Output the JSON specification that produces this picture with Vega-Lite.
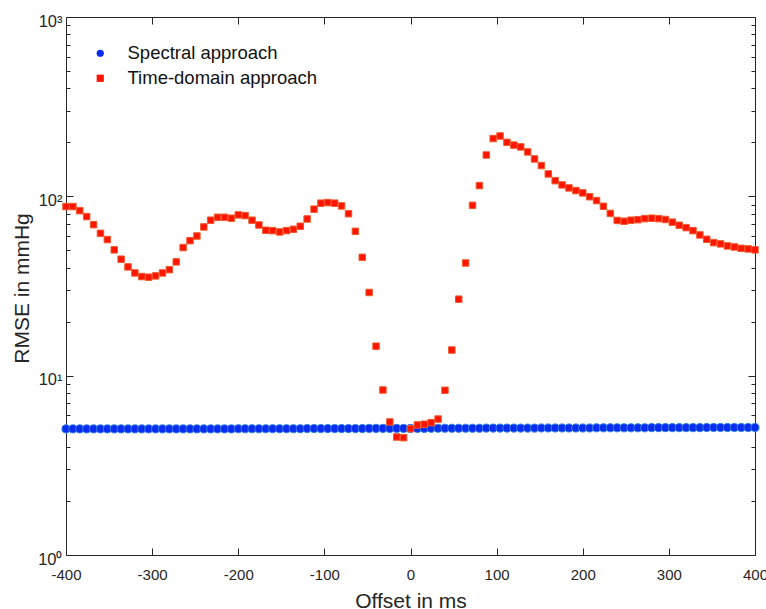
{
  "$schema": "https://vega.github.io/schema/vega-lite/v6.json",
  "width": 689,
  "height": 538,
  "autosize": "none",
  "padding": {"left": 66, "top": 17, "right": 11, "bottom": 54},
  "background": "white",
  "config": {
    "view": {"stroke": null},
    "font": "Liberation Sans",
    "axis": {
      "grid": false,
      "domainColor": "#262626",
      "tickColor": "#262626",
      "labelColor": "#262626",
      "titleColor": "#262626",
      "domainWidth": 1,
      "tickWidth": 1,
      "labelFont": "Liberation Sans",
      "titleFont": "Liberation Sans",
      "titleFontWeight": "normal",
      "labelFontSize": 15,
      "titleFontSize": 21,
      "labelFlush": false,
      "labelOverlap": false
    }
  },
  "datasets": {
    "rmse": [
      {"offset": -400, "rmse": 5.05, "method": "Spectral approach"},
      {"offset": -392, "rmse": 5.05, "method": "Spectral approach"},
      {"offset": -384, "rmse": 5.05, "method": "Spectral approach"},
      {"offset": -376, "rmse": 5.05, "method": "Spectral approach"},
      {"offset": -368, "rmse": 5.05, "method": "Spectral approach"},
      {"offset": -360, "rmse": 5.05, "method": "Spectral approach"},
      {"offset": -352, "rmse": 5.05, "method": "Spectral approach"},
      {"offset": -344, "rmse": 5.05, "method": "Spectral approach"},
      {"offset": -336, "rmse": 5.05, "method": "Spectral approach"},
      {"offset": -328, "rmse": 5.05, "method": "Spectral approach"},
      {"offset": -320, "rmse": 5.05, "method": "Spectral approach"},
      {"offset": -312, "rmse": 5.05, "method": "Spectral approach"},
      {"offset": -304, "rmse": 5.05, "method": "Spectral approach"},
      {"offset": -296, "rmse": 5.05, "method": "Spectral approach"},
      {"offset": -288, "rmse": 5.05, "method": "Spectral approach"},
      {"offset": -280, "rmse": 5.05, "method": "Spectral approach"},
      {"offset": -272, "rmse": 5.05, "method": "Spectral approach"},
      {"offset": -264, "rmse": 5.05, "method": "Spectral approach"},
      {"offset": -256, "rmse": 5.05, "method": "Spectral approach"},
      {"offset": -248, "rmse": 5.05, "method": "Spectral approach"},
      {"offset": -240, "rmse": 5.05, "method": "Spectral approach"},
      {"offset": -232, "rmse": 5.05, "method": "Spectral approach"},
      {"offset": -224, "rmse": 5.05, "method": "Spectral approach"},
      {"offset": -216, "rmse": 5.05, "method": "Spectral approach"},
      {"offset": -208, "rmse": 5.05, "method": "Spectral approach"},
      {"offset": -200, "rmse": 5.06, "method": "Spectral approach"},
      {"offset": -192, "rmse": 5.06, "method": "Spectral approach"},
      {"offset": -184, "rmse": 5.06, "method": "Spectral approach"},
      {"offset": -176, "rmse": 5.06, "method": "Spectral approach"},
      {"offset": -168, "rmse": 5.06, "method": "Spectral approach"},
      {"offset": -160, "rmse": 5.06, "method": "Spectral approach"},
      {"offset": -152, "rmse": 5.06, "method": "Spectral approach"},
      {"offset": -144, "rmse": 5.06, "method": "Spectral approach"},
      {"offset": -136, "rmse": 5.06, "method": "Spectral approach"},
      {"offset": -128, "rmse": 5.06, "method": "Spectral approach"},
      {"offset": -120, "rmse": 5.07, "method": "Spectral approach"},
      {"offset": -112, "rmse": 5.07, "method": "Spectral approach"},
      {"offset": -104, "rmse": 5.07, "method": "Spectral approach"},
      {"offset": -96, "rmse": 5.07, "method": "Spectral approach"},
      {"offset": -88, "rmse": 5.07, "method": "Spectral approach"},
      {"offset": -80, "rmse": 5.07, "method": "Spectral approach"},
      {"offset": -72, "rmse": 5.07, "method": "Spectral approach"},
      {"offset": -64, "rmse": 5.07, "method": "Spectral approach"},
      {"offset": -56, "rmse": 5.07, "method": "Spectral approach"},
      {"offset": -48, "rmse": 5.08, "method": "Spectral approach"},
      {"offset": -40, "rmse": 5.08, "method": "Spectral approach"},
      {"offset": -32, "rmse": 5.08, "method": "Spectral approach"},
      {"offset": -24, "rmse": 5.08, "method": "Spectral approach"},
      {"offset": -16, "rmse": 5.08, "method": "Spectral approach"},
      {"offset": -8, "rmse": 5.08, "method": "Spectral approach"},
      {"offset": 0, "rmse": 5.08, "method": "Spectral approach"},
      {"offset": 8, "rmse": 5.08, "method": "Spectral approach"},
      {"offset": 16, "rmse": 5.08, "method": "Spectral approach"},
      {"offset": 24, "rmse": 5.09, "method": "Spectral approach"},
      {"offset": 32, "rmse": 5.09, "method": "Spectral approach"},
      {"offset": 40, "rmse": 5.09, "method": "Spectral approach"},
      {"offset": 48, "rmse": 5.09, "method": "Spectral approach"},
      {"offset": 56, "rmse": 5.09, "method": "Spectral approach"},
      {"offset": 64, "rmse": 5.09, "method": "Spectral approach"},
      {"offset": 72, "rmse": 5.09, "method": "Spectral approach"},
      {"offset": 80, "rmse": 5.09, "method": "Spectral approach"},
      {"offset": 88, "rmse": 5.1, "method": "Spectral approach"},
      {"offset": 96, "rmse": 5.1, "method": "Spectral approach"},
      {"offset": 104, "rmse": 5.1, "method": "Spectral approach"},
      {"offset": 112, "rmse": 5.1, "method": "Spectral approach"},
      {"offset": 120, "rmse": 5.1, "method": "Spectral approach"},
      {"offset": 128, "rmse": 5.1, "method": "Spectral approach"},
      {"offset": 136, "rmse": 5.1, "method": "Spectral approach"},
      {"offset": 144, "rmse": 5.1, "method": "Spectral approach"},
      {"offset": 152, "rmse": 5.11, "method": "Spectral approach"},
      {"offset": 160, "rmse": 5.11, "method": "Spectral approach"},
      {"offset": 168, "rmse": 5.11, "method": "Spectral approach"},
      {"offset": 176, "rmse": 5.11, "method": "Spectral approach"},
      {"offset": 184, "rmse": 5.11, "method": "Spectral approach"},
      {"offset": 192, "rmse": 5.11, "method": "Spectral approach"},
      {"offset": 200, "rmse": 5.11, "method": "Spectral approach"},
      {"offset": 208, "rmse": 5.11, "method": "Spectral approach"},
      {"offset": 216, "rmse": 5.12, "method": "Spectral approach"},
      {"offset": 224, "rmse": 5.12, "method": "Spectral approach"},
      {"offset": 232, "rmse": 5.12, "method": "Spectral approach"},
      {"offset": 240, "rmse": 5.12, "method": "Spectral approach"},
      {"offset": 248, "rmse": 5.12, "method": "Spectral approach"},
      {"offset": 256, "rmse": 5.12, "method": "Spectral approach"},
      {"offset": 264, "rmse": 5.12, "method": "Spectral approach"},
      {"offset": 272, "rmse": 5.12, "method": "Spectral approach"},
      {"offset": 280, "rmse": 5.13, "method": "Spectral approach"},
      {"offset": 288, "rmse": 5.13, "method": "Spectral approach"},
      {"offset": 296, "rmse": 5.13, "method": "Spectral approach"},
      {"offset": 304, "rmse": 5.13, "method": "Spectral approach"},
      {"offset": 312, "rmse": 5.13, "method": "Spectral approach"},
      {"offset": 320, "rmse": 5.13, "method": "Spectral approach"},
      {"offset": 328, "rmse": 5.13, "method": "Spectral approach"},
      {"offset": 336, "rmse": 5.13, "method": "Spectral approach"},
      {"offset": 344, "rmse": 5.14, "method": "Spectral approach"},
      {"offset": 352, "rmse": 5.14, "method": "Spectral approach"},
      {"offset": 360, "rmse": 5.14, "method": "Spectral approach"},
      {"offset": 368, "rmse": 5.14, "method": "Spectral approach"},
      {"offset": 376, "rmse": 5.14, "method": "Spectral approach"},
      {"offset": 384, "rmse": 5.14, "method": "Spectral approach"},
      {"offset": 392, "rmse": 5.14, "method": "Spectral approach"},
      {"offset": 400, "rmse": 5.14, "method": "Spectral approach"},
      {"offset": -400, "rmse": 87.7, "method": "Time-domain approach"},
      {"offset": -392, "rmse": 87.7, "method": "Time-domain approach"},
      {"offset": -384, "rmse": 83.2, "method": "Time-domain approach"},
      {"offset": -376, "rmse": 77.1, "method": "Time-domain approach"},
      {"offset": -368, "rmse": 69.5, "method": "Time-domain approach"},
      {"offset": -360, "rmse": 62.2, "method": "Time-domain approach"},
      {"offset": -352, "rmse": 57.4, "method": "Time-domain approach"},
      {"offset": -344, "rmse": 50.3, "method": "Time-domain approach"},
      {"offset": -336, "rmse": 44.6, "method": "Time-domain approach"},
      {"offset": -328, "rmse": 40.4, "method": "Time-domain approach"},
      {"offset": -320, "rmse": 37.4, "method": "Time-domain approach"},
      {"offset": -312, "rmse": 35.7, "method": "Time-domain approach"},
      {"offset": -304, "rmse": 35.4, "method": "Time-domain approach"},
      {"offset": -296, "rmse": 36.0, "method": "Time-domain approach"},
      {"offset": -288, "rmse": 37.4, "method": "Time-domain approach"},
      {"offset": -280, "rmse": 39.0, "method": "Time-domain approach"},
      {"offset": -272, "rmse": 43.1, "method": "Time-domain approach"},
      {"offset": -264, "rmse": 51.8, "method": "Time-domain approach"},
      {"offset": -256, "rmse": 56.6, "method": "Time-domain approach"},
      {"offset": -248, "rmse": 60.1, "method": "Time-domain approach"},
      {"offset": -240, "rmse": 67.5, "method": "Time-domain approach"},
      {"offset": -232, "rmse": 73.6, "method": "Time-domain approach"},
      {"offset": -224, "rmse": 76.4, "method": "Time-domain approach"},
      {"offset": -216, "rmse": 76.4, "method": "Time-domain approach"},
      {"offset": -208, "rmse": 75.5, "method": "Time-domain approach"},
      {"offset": -200, "rmse": 78.8, "method": "Time-domain approach"},
      {"offset": -192, "rmse": 78.1, "method": "Time-domain approach"},
      {"offset": -184, "rmse": 73.6, "method": "Time-domain approach"},
      {"offset": -176, "rmse": 69.2, "method": "Time-domain approach"},
      {"offset": -168, "rmse": 64.7, "method": "Time-domain approach"},
      {"offset": -160, "rmse": 64.4, "method": "Time-domain approach"},
      {"offset": -152, "rmse": 63.3, "method": "Time-domain approach"},
      {"offset": -144, "rmse": 64.4, "method": "Time-domain approach"},
      {"offset": -136, "rmse": 65.5, "method": "Time-domain approach"},
      {"offset": -128, "rmse": 68.1, "method": "Time-domain approach"},
      {"offset": -120, "rmse": 74.8, "method": "Time-domain approach"},
      {"offset": -112, "rmse": 84.8, "method": "Time-domain approach"},
      {"offset": -104, "rmse": 91.6, "method": "Time-domain approach"},
      {"offset": -96, "rmse": 92.3, "method": "Time-domain approach"},
      {"offset": -88, "rmse": 91.6, "method": "Time-domain approach"},
      {"offset": -80, "rmse": 88.4, "method": "Time-domain approach"},
      {"offset": -72, "rmse": 80.0, "method": "Time-domain approach"},
      {"offset": -64, "rmse": 63.8, "method": "Time-domain approach"},
      {"offset": -56, "rmse": 45.7, "method": "Time-domain approach"},
      {"offset": -48, "rmse": 29.1, "method": "Time-domain approach"},
      {"offset": -40, "rmse": 14.6, "method": "Time-domain approach"},
      {"offset": -32, "rmse": 8.32, "method": "Time-domain approach"},
      {"offset": -24, "rmse": 5.52, "method": "Time-domain approach"},
      {"offset": -16, "rmse": 4.55, "method": "Time-domain approach"},
      {"offset": -8, "rmse": 4.51, "method": "Time-domain approach"},
      {"offset": 0, "rmse": 5.06, "method": "Time-domain approach"},
      {"offset": 8, "rmse": 5.31, "method": "Time-domain approach"},
      {"offset": 16, "rmse": 5.36, "method": "Time-domain approach"},
      {"offset": 24, "rmse": 5.47, "method": "Time-domain approach"},
      {"offset": 32, "rmse": 5.73, "method": "Time-domain approach"},
      {"offset": 40, "rmse": 8.29, "method": "Time-domain approach"},
      {"offset": 48, "rmse": 13.9, "method": "Time-domain approach"},
      {"offset": 56, "rmse": 26.7, "method": "Time-domain approach"},
      {"offset": 64, "rmse": 42.5, "method": "Time-domain approach"},
      {"offset": 72, "rmse": 89.1, "method": "Time-domain approach"},
      {"offset": 80, "rmse": 114.8, "method": "Time-domain approach"},
      {"offset": 88, "rmse": 170, "method": "Time-domain approach"},
      {"offset": 96, "rmse": 210, "method": "Time-domain approach"},
      {"offset": 104, "rmse": 217, "method": "Time-domain approach"},
      {"offset": 112, "rmse": 200, "method": "Time-domain approach"},
      {"offset": 120, "rmse": 193, "method": "Time-domain approach"},
      {"offset": 128, "rmse": 188.6, "method": "Time-domain approach"},
      {"offset": 136, "rmse": 176.9, "method": "Time-domain approach"},
      {"offset": 144, "rmse": 161.6, "method": "Time-domain approach"},
      {"offset": 152, "rmse": 148.4, "method": "Time-domain approach"},
      {"offset": 160, "rmse": 133.3, "method": "Time-domain approach"},
      {"offset": 168, "rmse": 122.3, "method": "Time-domain approach"},
      {"offset": 176, "rmse": 115.8, "method": "Time-domain approach"},
      {"offset": 184, "rmse": 111.4, "method": "Time-domain approach"},
      {"offset": 192, "rmse": 107.7, "method": "Time-domain approach"},
      {"offset": 200, "rmse": 104.5, "method": "Time-domain approach"},
      {"offset": 208, "rmse": 99.5, "method": "Time-domain approach"},
      {"offset": 216, "rmse": 94.7, "method": "Time-domain approach"},
      {"offset": 224, "rmse": 88.0, "method": "Time-domain approach"},
      {"offset": 232, "rmse": 80.3, "method": "Time-domain approach"},
      {"offset": 240, "rmse": 73.4, "method": "Time-domain approach"},
      {"offset": 248, "rmse": 72.6, "method": "Time-domain approach"},
      {"offset": 256, "rmse": 73.6, "method": "Time-domain approach"},
      {"offset": 264, "rmse": 74.1, "method": "Time-domain approach"},
      {"offset": 272, "rmse": 75.1, "method": "Time-domain approach"},
      {"offset": 280, "rmse": 75.5, "method": "Time-domain approach"},
      {"offset": 288, "rmse": 75.1, "method": "Time-domain approach"},
      {"offset": 296, "rmse": 74.3, "method": "Time-domain approach"},
      {"offset": 304, "rmse": 71.8, "method": "Time-domain approach"},
      {"offset": 312, "rmse": 69.0, "method": "Time-domain approach"},
      {"offset": 320, "rmse": 66.9, "method": "Time-domain approach"},
      {"offset": 328, "rmse": 64.4, "method": "Time-domain approach"},
      {"offset": 336, "rmse": 60.9, "method": "Time-domain approach"},
      {"offset": 344, "rmse": 57.6, "method": "Time-domain approach"},
      {"offset": 352, "rmse": 55.2, "method": "Time-domain approach"},
      {"offset": 360, "rmse": 54.3, "method": "Time-domain approach"},
      {"offset": 368, "rmse": 52.9, "method": "Time-domain approach"},
      {"offset": 376, "rmse": 52.2, "method": "Time-domain approach"},
      {"offset": 384, "rmse": 51.3, "method": "Time-domain approach"},
      {"offset": 392, "rmse": 50.9, "method": "Time-domain approach"},
      {"offset": 400, "rmse": 50.3, "method": "Time-domain approach"}
    ]
  },
  "data": {"name": "rmse"},
  "layer": [
    {
      "transform": [{"filter": "datum.method === 'Spectral approach'"}],
      "mark": {"type": "point", "filled": true, "opacity": 1, "size": 66, "stroke": "#2f7fe6", "strokeWidth": 1},
      "encoding": {
        "x": {"field": "offset", "type": "quantitative",
          "scale": {"domain": [-400, 400], "nice": false, "zero": false},
          "axis": {"orient": "bottom", "values": [-400, -300, -200, -100, 0, 100, 200, 300, 400],
            "labelExpr": "'' + datum.value", "tickSize": -7, "labelPadding": 19,
            "title": "Offset in ms", "titleX": 344.5, "titleY": 52, "titleBaseline": "alphabetic", "titleAlign": "center"}},
        "y": {"field": "rmse", "type": "quantitative",
          "scale": {"type": "log", "domain": [1, 1000], "nice": false},
          "axis": {"orient": "left", "values": [1, 10, 100, 1000],
            "labelExpr": "'10' + (datum.value == 1 ? '⁰' : datum.value == 10 ? '¹' : datum.value == 100 ? '²' : '³')",
            "labelFontSize": 16.5,
            "tickSize": -7, "labelPadding": 11, "labelOffset": 4, "labelBaseline": "middle",
            "title": "RMSE in mmHg", "titleAngle": 270, "titleX": -38, "titleY": 271, "titleBaseline": "alphabetic", "titleAlign": "center"}},
        "color": {"field": "method", "type": "nominal",
          "scale": {"domain": ["Spectral approach", "Time-domain approach"], "range": ["#0a2cf0", "#ff1400"]},
          "legend": {"orient": "none", "legendX": 25, "legendY": 27, "title": null, "labelFontSize": 18.5, "labelFont": "Liberation Sans", "labelColor": "#111111", "labelLimit": 0, "symbolSize": 52, "labelOffset": 18, "rowPadding": 6, "padding": 0, "symbolStrokeWidth": 0}},
        "shape": {"field": "method", "type": "nominal",
          "scale": {"domain": ["Spectral approach", "Time-domain approach"], "range": ["circle", "square"]},
          "legend": {"orient": "none", "legendX": 25, "legendY": 27, "title": null, "labelFontSize": 18.5, "labelFont": "Liberation Sans", "labelColor": "#111111", "labelLimit": 0, "symbolSize": 52, "labelOffset": 18, "rowPadding": 6, "padding": 0, "symbolStrokeWidth": 0}}
      }
    },
    {
      "transform": [{"filter": "datum.method === 'Time-domain approach'"}],
      "mark": {"type": "point", "filled": true, "opacity": 1, "size": 42, "stroke": "#ee5a2c", "strokeWidth": 1},
      "encoding": {
        "x": {"field": "offset", "type": "quantitative",
          "axis": {"orient": "top", "values": [-400, -300, -200, -100, 0, 100, 200, 300, 400], "labels": false, "tickSize": -7, "title": null}},
        "y": {"field": "rmse", "type": "quantitative",
          "axis": {"orient": "right", "values": [1, 10, 100, 1000], "labels": false, "tickSize": -7, "title": null}},
        "color": {"field": "method", "type": "nominal"},
        "shape": {"field": "method", "type": "nominal"}
      }
    },
    {
      "transform": [{"filter": "datum.method === 'Spectral approach'"}],
      "mark": {"type": "point", "opacity": 0},
      "encoding": {
        "x": {"field": "offset", "type": "quantitative", "axis": null},
        "y": {"field": "rmse", "type": "quantitative",
          "axis": {"orient": "left", "values": [2, 3, 4, 5, 6, 7, 8, 9, 20, 30, 40, 50, 60, 70, 80, 90, 200, 300, 400, 500, 600, 700, 800, 900],
            "labels": false, "domain": false, "tickSize": -4, "title": null}}
      }
    },
    {
      "transform": [{"filter": "datum.method === 'Spectral approach'"}],
      "mark": {"type": "point", "opacity": 0},
      "encoding": {
        "x": {"field": "offset", "type": "quantitative", "axis": null},
        "y": {"field": "rmse", "type": "quantitative",
          "axis": {"orient": "right", "values": [2, 3, 4, 5, 6, 7, 8, 9, 20, 30, 40, 50, 60, 70, 80, 90, 200, 300, 400, 500, 600, 700, 800, 900],
            "labels": false, "domain": false, "tickSize": -4, "title": null}}
      }
    }
  ],
  "resolve": {"axis": {"x": "independent", "y": "independent"}}
}
